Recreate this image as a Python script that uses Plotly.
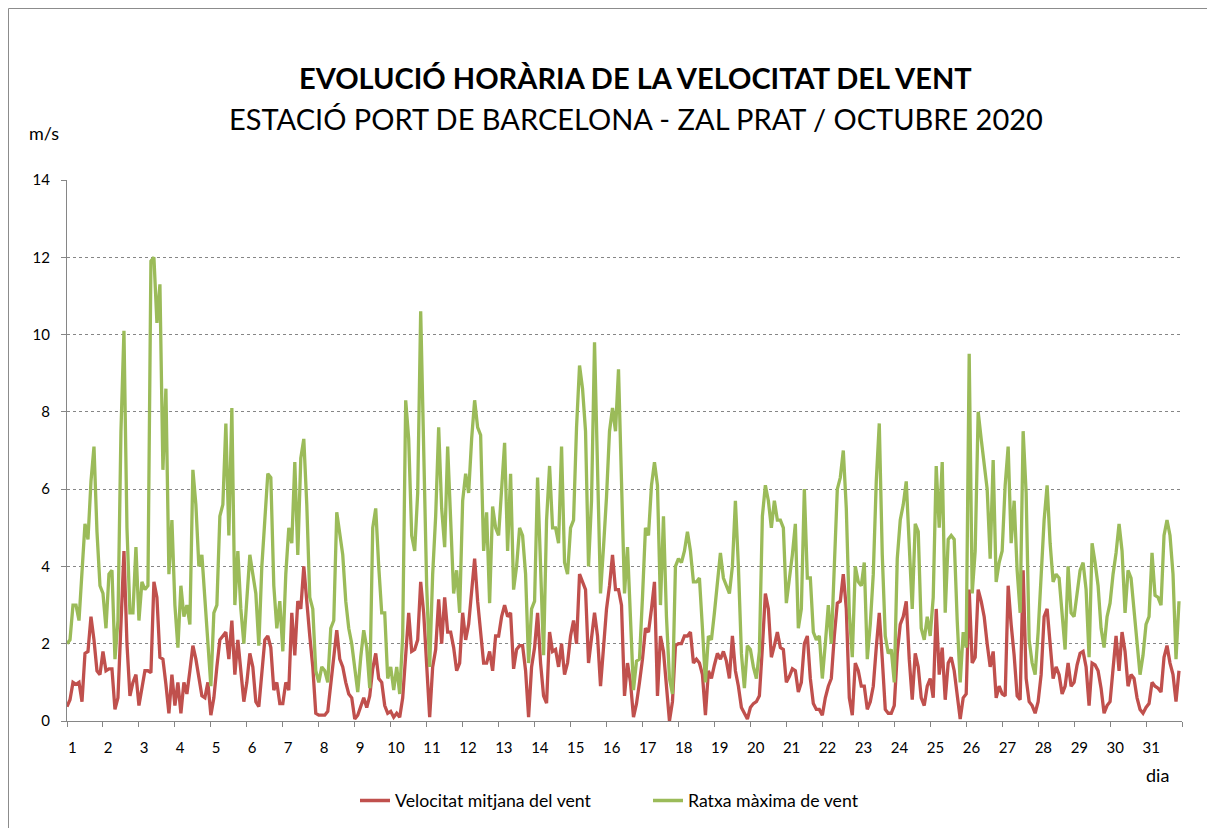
import plotly.graph_objects as go

# ---- data (sampled every 2 hours, 12 values per day) ----
mean_speed = [
    0.37, 0.55, 1.0, 0.95, 1.0, 0.5, 1.75, 1.8, 2.7, 2.1, 1.3, 1.2,
    1.8, 1.3, 1.35, 1.35, 0.3, 0.6, 2.5, 4.4, 2.0, 0.65, 1.0, 1.2,
    0.4, 0.8, 1.3, 1.3, 1.25, 3.6, 3.2, 1.65, 1.6, 0.95, 0.2, 1.2,
    0.4, 1.0, 0.2, 1.0, 0.7, 1.3, 1.95, 1.6, 1.1, 0.65, 0.6, 1.0,
    0.15, 0.6, 1.4, 2.1, 2.2, 2.3, 1.6, 2.6, 1.2, 2.1, 1.3, 0.5,
    1.0, 1.75, 1.4, 0.5, 0.37, 1.2, 2.1, 2.2, 1.9, 0.8, 1.0, 0.45,
    0.45, 1.0, 0.8, 2.8, 1.7, 3.1, 2.9, 4.0, 3.0, 2.2, 1.4, 0.2,
    0.15, 0.15, 0.15, 0.25, 0.9, 1.7, 2.35, 1.6, 1.4, 1.0, 0.7, 0.6,
    0.05, 0.15, 0.35, 0.6, 0.35, 0.65, 1.35, 1.75, 1.1, 1.0, 0.4, 0.2,
    0.25, 0.1, 0.2, 0.1, 0.6, 1.75, 2.8, 1.8, 1.85, 2.1, 3.6, 2.8,
    1.5, 0.1, 1.4, 1.85, 3.15, 2.0, 3.2, 2.3, 2.3, 1.9, 1.3, 1.5,
    2.8, 2.1, 2.5, 3.3, 4.2, 3.1, 2.3, 1.5, 1.5, 1.8, 1.3, 2.2,
    2.2, 2.7, 3.0, 2.7, 2.8, 1.35, 1.85, 1.95, 1.95, 1.3, 0.1, 1.4,
    1.9, 2.8, 1.5, 0.65, 0.46, 2.3, 1.8, 1.85, 1.4, 2.0, 1.2, 1.5,
    2.2, 2.6, 2.0, 3.8, 3.6, 3.4, 1.5, 2.2, 2.8, 2.2, 0.9, 1.9,
    2.9, 3.5, 4.3, 3.4, 3.4, 3.0, 0.65, 1.5, 1.0, 0.1, 0.45, 1.0,
    1.6, 2.4, 2.3, 2.9, 3.6, 0.65, 2.2, 1.8, 0.9, 0.0, 0.5, 1.95,
    2.0, 2.0, 2.2, 2.2, 2.3, 1.5, 1.6, 1.5, 1.2, 0.15, 1.3, 1.1,
    1.45, 1.75, 1.6, 1.8, 1.55, 1.1, 2.2, 1.3, 0.9, 0.35, 0.2, 0.05,
    0.35, 0.45, 0.5, 0.65, 1.9, 3.3, 2.9, 1.65, 1.95, 2.3, 1.9, 1.85,
    1.0, 1.15, 1.35, 1.3, 0.75, 1.0, 2.0, 2.2, 1.1, 0.45, 0.3, 0.3,
    0.15, 0.6, 0.9, 1.1, 2.2, 3.05, 3.1, 3.8, 2.9, 0.6, 0.15, 1.5,
    1.3, 0.9, 0.9, 0.3, 0.5, 0.9, 1.9, 2.8, 1.6, 0.3, 0.2, 0.2,
    0.4, 1.75, 2.5, 2.7, 3.1, 1.6, 0.55, 1.75, 1.4, 0.6, 0.4, 0.9,
    1.1, 0.6, 2.9, 1.2, 1.9, 0.55, 1.5, 1.65, 1.3, 0.75, 0.05, 0.6,
    0.7, 3.4, 1.5, 1.65, 3.4, 3.1, 2.7, 2.0, 1.4, 1.8, 0.6, 0.9,
    0.7, 0.65, 3.5, 2.5, 1.7, 0.65, 0.55, 3.9, 1.1, 0.5, 0.4, 0.2,
    0.5, 1.2, 2.7, 2.9, 1.9, 1.1, 1.4, 1.2, 0.7, 0.9, 1.5, 0.9,
    1.0, 1.45, 1.75, 1.8, 1.4, 0.4, 1.5, 1.45, 1.3, 0.85, 0.2, 0.4,
    0.5, 1.4, 2.2, 1.3, 2.3, 1.8, 0.9, 1.2, 1.1, 0.6, 0.3, 0.2,
    0.35, 0.45, 1.0, 0.9, 0.85, 0.75, 1.65, 1.95, 1.5, 1.2, 0.5, 1.3,
]

max_gust = [
    2.0, 2.1, 3.0, 3.0, 2.6, 4.0, 5.1, 4.7, 6.2, 7.1, 4.9, 3.5,
    3.3, 2.4, 3.8, 3.9, 1.6, 2.6, 7.5, 10.1, 5.0, 2.8, 2.8, 4.5,
    2.6, 3.6, 3.4, 3.5, 11.9, 12.0, 10.3, 11.3, 6.5, 8.6, 3.8, 5.2,
    3.0, 1.9, 3.5, 2.7, 3.0, 2.5, 6.5, 5.6, 4.0, 4.3, 3.2, 2.2,
    0.9, 2.8, 3.0, 5.3, 5.6, 7.7, 4.8, 8.1, 3.0, 4.4, 2.9, 2.0,
    3.1, 4.3, 3.8, 3.3, 1.95, 4.0, 5.2, 6.4, 6.3, 3.5, 2.4, 3.1,
    1.8, 3.8, 5.0, 4.6, 6.7, 4.3, 6.8, 7.3, 5.6, 3.2, 2.9, 1.3,
    1.0, 1.4, 1.3, 1.0, 2.4, 2.6, 5.4, 4.9, 4.3, 3.1, 2.4, 2.0,
    1.3, 0.75, 1.65, 2.35, 1.9, 0.85, 5.0, 5.5, 4.0, 2.8, 2.8, 1.1,
    1.4, 0.8, 1.4, 0.7, 2.2, 8.3, 7.3, 4.8, 4.4, 5.9, 10.6, 6.5,
    3.5, 1.4, 3.8, 5.3, 7.6, 5.5, 4.5, 7.1, 5.0, 3.3, 3.9, 2.8,
    5.7, 6.4, 5.9, 7.3, 8.3, 7.6, 7.4, 4.4, 5.4, 3.05, 5.55, 5.0,
    4.8, 6.0, 7.2, 4.4, 6.4, 3.4, 4.0, 5.0, 4.8, 3.8, 1.5, 2.9,
    3.1, 6.3, 4.0, 1.7, 5.2, 6.6, 5.0, 5.0, 4.6, 7.1, 4.1, 3.8,
    5.0, 5.2, 7.6, 9.2, 8.6, 7.5, 4.0, 5.7, 9.8, 6.5, 3.3, 4.5,
    5.8, 7.5, 8.1, 7.5, 9.1, 6.2, 3.3, 4.5, 2.5, 0.8, 1.55, 1.6,
    3.2, 5.0, 4.8, 6.1, 6.7, 6.1, 3.0, 5.3, 2.7, 1.1, 0.7, 4.0,
    4.2, 4.1, 4.4, 4.9, 4.4, 3.6, 3.6, 3.7, 2.4, 1.0, 2.2, 2.1,
    2.8, 3.6, 4.35, 3.7, 3.5, 3.3, 4.0, 5.7, 4.0, 1.75, 0.85, 1.95,
    1.85, 1.4, 1.1, 1.8, 5.3, 6.1, 5.7, 5.0, 5.7, 5.2, 5.2, 5.0,
    3.05, 3.6, 4.3, 5.1, 2.4, 2.9, 6.0, 3.7, 3.7, 2.3, 2.1, 2.2,
    1.1, 2.0, 3.0, 2.0, 4.1, 6.0, 6.3, 7.0, 5.5, 2.8, 1.65, 4.0,
    3.6, 3.5, 4.1, 1.6, 2.5, 3.8, 6.2, 7.7, 4.3, 2.2, 1.75, 1.85,
    1.0, 4.2, 5.2, 5.6, 6.2, 4.7, 2.9, 5.1, 4.9, 2.4, 2.1, 2.7,
    2.2, 3.2, 6.6, 5.0, 6.7, 2.8, 4.7, 4.8, 4.7, 2.6, 1.0, 2.3,
    1.9, 9.5, 3.3, 4.4, 8.0, 7.3, 6.6, 6.0, 4.2, 6.75, 3.6, 4.1,
    4.4, 6.1, 7.1, 4.6, 5.7, 3.9, 2.8, 7.5, 5.9, 2.1, 1.5, 1.2,
    2.3, 3.8, 5.2, 6.1, 4.6, 3.6, 3.8, 3.7, 2.7, 1.85, 4.0, 2.8,
    2.7, 3.3, 3.9, 4.1, 3.4, 1.65, 4.6, 4.1, 3.5, 2.4, 1.9, 2.7,
    3.05, 3.8, 4.35, 5.1, 4.4, 2.8, 3.9, 3.7, 2.8, 1.9, 1.2, 1.7,
    2.5, 2.7, 4.35, 3.25, 3.2, 3.0, 4.8, 5.2, 4.8, 3.8, 1.6, 3.1,
]

day_labels = [str(d) for d in range(1, 32)]
hours = list(range(0, 744, 2))

RED = "#C0504D"
GREEN = "#9BBB59"
GRAY = "#868686"
FONT = "Lato, 'Open Sans', sans-serif"

fig = go.Figure()
fig.add_trace(go.Scatter(x=hours, y=mean_speed, mode="lines",
                         name="Velocitat mitjana del vent",
                         line=dict(color=RED, width=3.3)))
fig.add_trace(go.Scatter(x=hours, y=max_gust, mode="lines",
                         name="Ratxa màxima de vent",
                         line=dict(color=GREEN, width=3.3)))

OFF = 8  # page body margin
L, R, T, B = 59, 41, 172, 115
PW, PH = 1215 - L - R, 828 - T - B


def px(xp):
    return (xp - OFF - L) / PW


def py(yp):
    return (828 - B - (yp - OFF)) / PH


fig.update_layout(
    width=1215, height=828,
    margin=dict(l=L, r=R, t=T, b=B),
    paper_bgcolor="white", plot_bgcolor="white",
    font=dict(family=FONT, color="black", size=15),
    showlegend=True,
    legend=dict(orientation="h", x=px(355), xanchor="left", y=py(801), yanchor="middle",
                font=dict(size=17.7), entrywidth=248, entrywidthmode="pixels",
                bgcolor="rgba(0,0,0,0)"),
    xaxis=dict(range=[0, 744], tickmode="array",
               tickvals=[24 * i + 3.5 for i in range(31)], ticktext=day_labels,
               ticks="", showgrid=False, zeroline=False,
               showline=True, linecolor=GRAY, linewidth=1,
               ticklabelstandoff=13, tickfont=dict(size=15),
               minor=dict(tickmode="array", tickvals=[24 * i for i in range(32)],
                          ticks="outside", ticklen=5, tickcolor=GRAY, showgrid=False)),
    yaxis=dict(range=[0, 14], tickmode="array", tickvals=list(range(0, 15, 2)),
               ticks="outside", ticklen=5, tickcolor=GRAY,
               showgrid=True, gridcolor=GRAY, griddash="dot", gridwidth=1,
               zeroline=False, showline=True, linecolor=GRAY, linewidth=1,
               ticklabelstandoff=8, tickfont=dict(size=15)),
)

fig.add_annotation(text="<b>EVOLUCIÓ HORÀRIA DE LA VELOCITAT DEL VENT</b>",
                   xref="paper", yref="paper", x=px(635), y=py(77),
                   showarrow=False, font=dict(size=29), xanchor="center", yanchor="middle")
fig.add_annotation(text="ESTACIÓ PORT DE BARCELONA - ZAL PRAT / OCTUBRE 2020",
                   xref="paper", yref="paper", x=px(636), y=py(119),
                   showarrow=False, font=dict(size=29), xanchor="center", yanchor="middle")
fig.add_annotation(text="m/s", xref="paper", yref="paper", x=px(44), y=py(133),
                   showarrow=False, font=dict(size=18), xanchor="center", yanchor="middle")
fig.add_annotation(text="dia", xref="paper", yref="paper", x=px(1157), y=py(775),
                   showarrow=False, font=dict(size=18), xanchor="center", yanchor="middle")

fig.add_shape(type="rect", xref="paper", yref="paper",
              x0=px(8.5), x1=px(1209), y0=py(8.5), y1=py(840),
              line=dict(color="#8C8C8C", width=1), fillcolor="rgba(0,0,0,0)", layer="below")

fig.write_html("out.html")
